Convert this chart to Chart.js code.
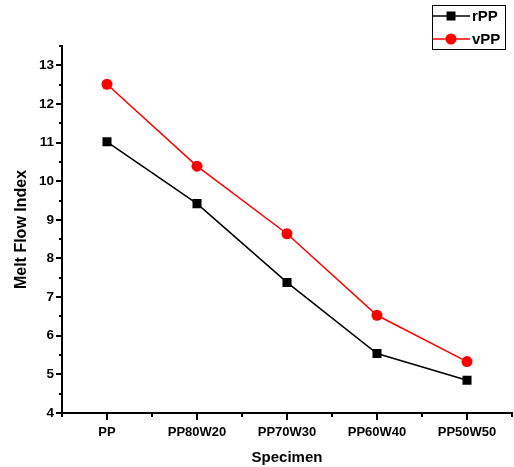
<!DOCTYPE html>
<html>
<head>
<meta charset="utf-8">
<script src="https://cdn.jsdelivr.net/npm/chart.js@4/dist/chart.umd.min.js"></script>
<style>
html,body{margin:0;padding:0;background:#fff;}
#wrap{width:514px;height:467px;position:relative;}
</style>
</head>
<body>
<div id="wrap"><canvas id="c" width="514" height="467"></canvas></div>
<script>
const categories = ['PP', 'PP80W20', 'PP70W30', 'PP60W40', 'PP50W50'];
const rPP = [11.02, 9.42, 7.38, 5.54, 4.85];
const vPP = [12.51, 10.39, 8.64, 6.53, 5.33];
const seriesNames = ['rPP', 'vPP'];
const yMin = 4, yMax = 13.5, yStep = 0.5;
const xTitle = 'Specimen';
const yTitle = 'Melt Flow Index';

const FONT = '"Liberation Sans", Arial, Helvetica, sans-serif';

const tickPlugin = {
  id: 'originTicks',
  afterDraw(chart) {
    const ctx = chart.ctx, xs = chart.scales.x, ys = chart.scales.y;
    const left = chart.chartArea.left, bottom = chart.chartArea.bottom;
    ctx.save();
    ctx.strokeStyle = '#000';
    ctx.lineWidth = 2;
    ctx.beginPath();
    ys.ticks.forEach(t => {
      const py = Math.round(ys.getPixelForValue(t.value));
      const len = Number.isInteger(t.value) ? 6 : 3;
      ctx.moveTo(left - len, py); ctx.lineTo(left, py);
    });
    for (let i = 0; i < categories.length; i++) {
      const px = Math.round(xs.getPixelForValue(i));
      ctx.moveTo(px, bottom); ctx.lineTo(px, bottom + 7);
    }
    for (let i = 0; i <= categories.length; i++) {
      const px = Math.round(xs.getPixelForValue(i - 0.5));
      ctx.moveTo(px, bottom); ctx.lineTo(px, bottom + 4);
    }
    ctx.stroke();
    ctx.restore();
  }
};

const legendPlugin = {
  id: 'boxLegend',
  afterDraw(chart) {
    const ctx = chart.ctx;
    const bx = 432, by = 5, bw = 73, bh = 44;
    ctx.save();
    ctx.fillStyle = '#fff';
    ctx.fillRect(bx, by, bw, bh);
    ctx.strokeStyle = '#000';
    ctx.lineWidth = 1;
    ctx.strokeRect(bx + 0.5, by + 0.5, bw, bh);
    const rows = [16, 39];
    chart.data.datasets.forEach((ds, i) => {
      const y = rows[i];
      ctx.strokeStyle = ds.borderColor;
      ctx.lineWidth = 1.5;
      ctx.beginPath(); ctx.moveTo(bx + 1, y); ctx.lineTo(470, y); ctx.stroke();
      ctx.fillStyle = ds.pointBackgroundColor;
      if (ds.pointStyle === 'rect') {
        ctx.fillRect(451 - 4.5, y - 4.5, 9, 9);
      } else {
        ctx.beginPath(); ctx.arc(451, y, 5.5, 0, Math.PI * 2); ctx.fill();
      }
      ctx.fillStyle = '#000';
      ctx.font = 'bold 15px ' + FONT;
      ctx.textBaseline = 'middle';
      ctx.textAlign = 'left';
      ctx.fillText(ds.label, 472, y + 1);
    });
    ctx.restore();
  }
};

new Chart(document.getElementById('c'), {
  type: 'line',
  data: {
    labels: categories,
    datasets: [
      {
        label: seriesNames[0], data: rPP,
        borderColor: '#000000', backgroundColor: '#000000',
        pointBackgroundColor: '#000000', pointBorderColor: '#000000',
        pointStyle: 'rect', pointRadius: 6.4, pointBorderWidth: 0,
        borderWidth: 1.5, tension: 0
      },
      {
        label: seriesNames[1], data: vPP,
        borderColor: '#ff0000', backgroundColor: '#ff0000',
        pointBackgroundColor: '#ff0000', pointBorderColor: '#ff0000',
        pointStyle: 'circle', pointRadius: 5.5, pointBorderWidth: 0,
        borderWidth: 1.5, tension: 0
      }
    ]
  },
  options: {
    responsive: false,
    animation: false,
    devicePixelRatio: 1,
    layout: { autoPadding: false, padding: { top: 46, right: 2, left: 0, bottom: 0 } },
    plugins: { legend: { display: false }, tooltip: { enabled: false } },
    scales: {
      x: {
        type: 'category',
        offset: true,
        grid: { display: false, drawTicks: false },
        border: { display: true, color: '#000', width: 2 },
        ticks: { color: '#000', font: { family: FONT, size: 13, weight: 'bold' }, padding: 12, maxRotation: 0, autoSkip: false },
        title: { display: true, text: xTitle, color: '#000', font: { family: FONT, size: 15, weight: 'bold' }, padding: { top: 0, bottom: 0 } },
        afterFit(s) { s.height = 54; s.paddingLeft = 0; s.paddingRight = 0; }
      },
      y: {
        min: yMin, max: yMax,
        grid: { display: false, drawTicks: false },
        border: { display: true, color: '#000', width: 2 },
        ticks: {
          stepSize: yStep, color: '#000', padding: 8,
          font: { family: FONT, size: 13.5, weight: 'bold' },
          callback: v => Number.isInteger(v) ? String(v) : ''
        },
        title: { display: true, text: yTitle, color: '#000', font: { family: FONT, size: 16, weight: 'bold' }, padding: { top: 12, bottom: 0 } },
        afterFit(s) { s.width = 62; s.paddingTop = 0; s.paddingBottom = 0; }
      }
    }
  },
  plugins: [tickPlugin, legendPlugin]
});
</script>
</body>
</html>
